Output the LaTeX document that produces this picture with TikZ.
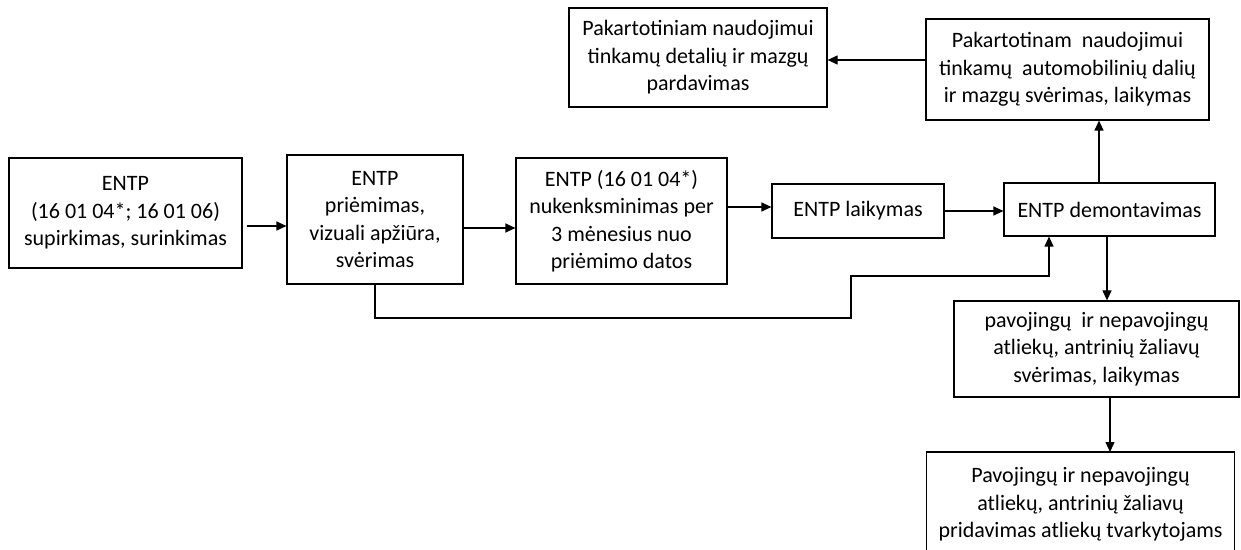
\documentclass[tikz,border=0pt]{standalone}
\usepackage{fontspec}
\setmainfont{Carlito}
\usetikzlibrary{arrows.meta}

\begin{document}
\begin{tikzpicture}[x=0.5pt,y=-0.5pt,
  box/.style={draw,line width=0.6pt,align=center,inner sep=0pt,
    font=\fontsize{11}{13.75}\selectfont},
  arr/.style={line width=0.6pt,-{Triangle[length=5pt,width=4.5pt]}}]
\useasboundingbox (0,0) rectangle (1241,550);
% main line
\node[box,minimum width=116.5pt,minimum height=55pt] (entp) at (125.5,213)
  {ENTP\\(16 01 04*; 16 01 06)\\supirkimas, surinkimas};
\node[box,minimum width=88pt,minimum height=64.5pt] (priem) at (375,219.5)
  {ENTP\\priėmimas,\\vizuali apžiūra,\\svėrimas};
\node[box,minimum width=105.5pt,minimum height=63pt] (nuken) at (621.5,221)
  {ENTP (16 01 04*)\\nukenksminimas per\\3 mėnesius nuo\\priėmimo datos};
\node[box,minimum width=86pt,minimum height=27pt] (laik) at (858,211)
  {ENTP laikymas};
\node[box,minimum width=105.5pt,minimum height=26.5pt] (demont) at (1109.5,209.5)
  {ENTP demontavimas};
% upper branch
\node[box,minimum width=141.5pt,minimum height=50.5pt] (sver) at (1067.5,69.5)
  {Pakartotinam\ \ naudojimui\\tinkamų\ \ automobilinių dalių\\ir mazgų svėrimas, laikymas};
\node[box,minimum width=129pt,minimum height=49.5pt] (pard) at (698,57.5)
  {Pakartotiniam naudojimui\\tinkamų detalių ir mazgų\\pardavimas};
% lower branch
\node[box,minimum width=142.5pt,minimum height=48pt] (atl) at (1096.5,349)
  {pavojingų\ \ ir nepavojingų\\atliekų, antrinių žaliavų\\svėrimas, laikymas};
\node[box,draw=none,minimum width=153.5pt,minimum height=52pt,anchor=north] (prid) at (1080.5,452)
  {Pavojingų ir nepavojingų\\atliekų, antrinių žaliavų\\pridavimas atliekų tvarkytojams};
\draw[line width=0.6pt] (prid.north west) rectangle ([yshift=-10pt]prid.south east);

\coordinate (k1) at (851,318);
\coordinate (k2) at (1049,276);

\draw[arr] ([xshift=2pt,yshift=-6.5pt]entp.east) -- ([yshift=-6.5pt]entp.east -| priem.west);
\draw[arr] ([yshift=-4.25pt]priem.east) -- ([yshift=-4.25pt]priem.east -| nuken.west);
\draw[arr] ([yshift=7pt]nuken.east) -- ([yshift=7pt]nuken.east -| laik.west);
\draw[arr] (laik.east) -- (laik.east -| demont.west);
\draw[arr] ([xshift=-5.25pt]demont.north) -- ([xshift=-5.25pt]demont.north |- sver.south);
\draw[arr] ([yshift=4.75pt]sver.west) -- ([yshift=4.75pt]sver.west -| pard.east);
\draw[arr] ([xshift=-1.25pt]demont.south) -- ([xshift=-1.25pt]demont.south |- atl.north);
\draw[arr] ([xshift=6.75pt]atl.south) -- ([xshift=6.75pt]atl.south |- prid.north);
\draw[arr] (priem.south) |- (k1) |- (k2) -- (k2 |- demont.south);
\end{tikzpicture}
\end{document}
